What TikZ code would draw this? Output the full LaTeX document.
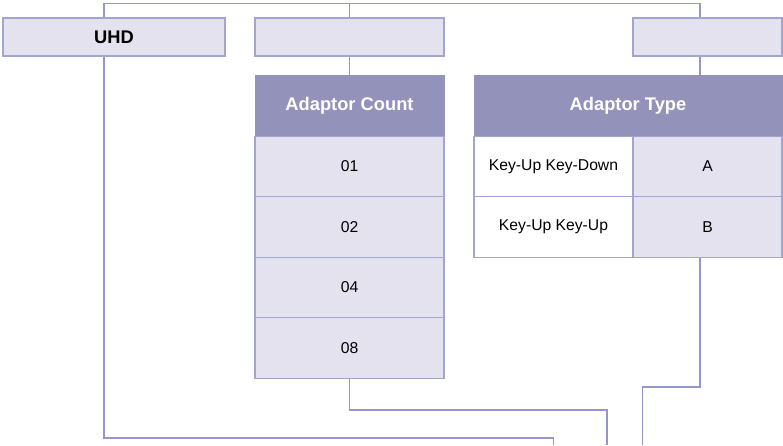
\documentclass[tikz,border=0pt]{standalone}
\usepackage{fontspec}
\setmainfont{Liberation Sans}
\begin{document}
\begin{tikzpicture}[x=1pt,y=-1pt,
  line/.style={draw=lineC,line width=1.1pt},
  cell/.style={draw=borderC,line width=1.1pt,fill=lightC,rectangle,inner sep=0pt,font=\fontsize{15.7}{18}\selectfont,text=black},
  whitecell/.style={cell,fill=white},
  headcell/.style={draw=headC,line width=1pt,fill=headC,rectangle,inner sep=0pt,font=\fontsize{18.3}{21}\selectfont\bfseries,text=white},
  topbox/.style={cell,minimum height=38pt,font=\fontsize{18.3}{21}\selectfont\bfseries}
]
\definecolor{lineC}{HTML}{9696CA}
\definecolor{borderC}{HTML}{A4A4D0}
\definecolor{lightC}{HTML}{E3E2EE}
\definecolor{headC}{HTML}{9292BA}
\useasboundingbox (0,0) rectangle (783,445);

% top boxes
\node[topbox,minimum width=222pt] (uhd) at (114,37) {UHD};
\node[topbox,minimum width=189pt] (box2) at (349.5,37) {};
\node[topbox,minimum width=149pt] (box3) at (707.5,37) {};

% Adaptor Count table
\node[headcell,minimum width=189pt,minimum height=61pt] (ac) at (349.5,105.5) {Adaptor Count};
\node[cell,minimum width=189pt,minimum height=60.5pt] (c1) at (349.5,166.5) {01};
\node[cell,minimum width=189pt,minimum height=60.5pt] (c2) at (349.5,227) {02};
\node[cell,minimum width=189pt,minimum height=60.5pt] (c3) at (349.5,287.5) {04};
\node[cell,minimum width=189pt,minimum height=60.5pt] (c4) at (349.5,348) {08};

% Adaptor Type table
\node[headcell,minimum width=308pt,minimum height=61pt] (at) at (628,105.5) {Adaptor Type};
\node[whitecell,minimum width=159pt,minimum height=60.5pt] (t1) at (553.5,166.5) {Key-Up Key-Down};
\node[cell,minimum width=149pt,minimum height=60.5pt] (ta) at (707.5,166.5) {A};
\node[whitecell,minimum width=159pt,minimum height=60.5pt] (t2) at (553.5,227) {Key-Up Key-Up};
\node[cell,minimum width=149pt,minimum height=60.5pt] (tb) at (707.5,227) {B};

% free ends at the bottom
\coordinate (e1) at (553.5,445);
\coordinate (e2) at (607,445);
\coordinate (e3) at (642.5,445);

% top connector
\draw[line] ([xshift=-10pt]uhd.north) -- ++(0,-14) -| ([xshift=-7.5pt]box3.north);
\draw[line] (box2.north) -- ++(0,-14);
\draw[line] (box2.south) -- (ac.north);
\draw[line] ([xshift=-7.5pt]box3.south) -- ([xshift=72pt]at.north);

% bottom connectors
\draw[line] ([xshift=-10pt]uhd.south) |- (553.5,438) -- (e1);
\draw[line] (c4.south) |- (607,410) -- (e2);
\draw[line] ([xshift=-7.5pt]tb.south) |- (642.5,387) -- (e3);
\end{tikzpicture}
\end{document}
